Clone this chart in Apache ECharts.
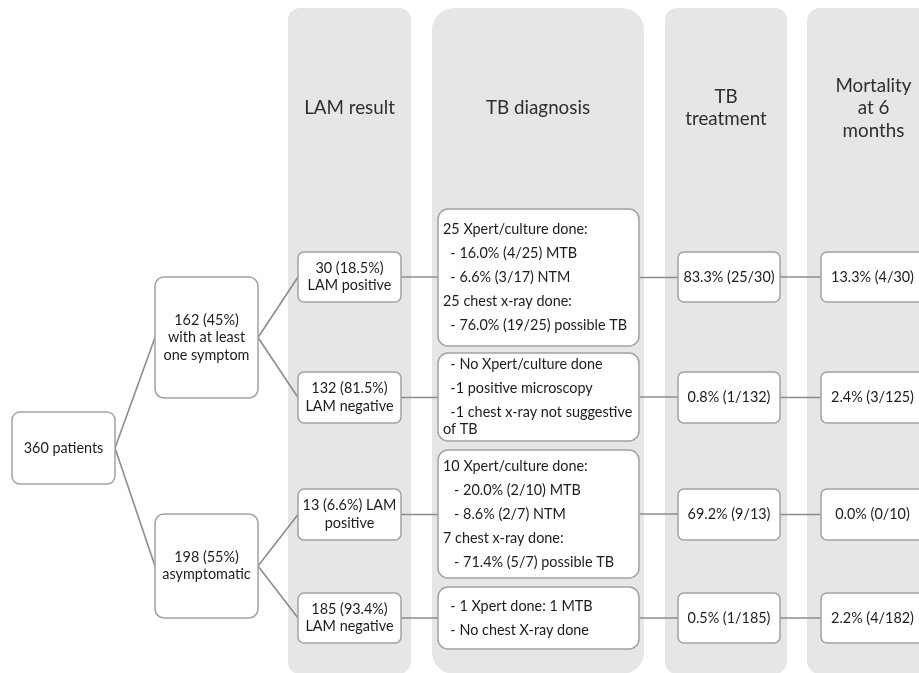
<!DOCTYPE html>
<html><head><meta charset="utf-8">
<script src="https://cdn.jsdelivr.net/npm/echarts/dist/echarts.min.js"></script>
<style>html,body{margin:0;padding:0;background:#fff}#c{width:919px;height:673px}</style>
</head><body><div id="c"></div>
<script>
// ---------- content ----------
const stageHeaders = ['LAM result', 'TB diagnosis', 'TB\ntreatment', 'Mortality\nat 6\nmonths'];
const rootLabels = ['360 patients'];
const symptomLabels = ['162 (45%)\nwith at least\none symptom', '198 (55%)\nasymptomatic'];
const lamLabels = ['30 (18.5%)\nLAM positive', '132 (81.5%)\nLAM negative', '13 (6.6%) LAM\npositive', '185 (93.4%)\nLAM negative'];
const diagnosisParagraphs = [
  ['25 Xpert/culture done:', '  - 16.0% (4/25) MTB', '  - 6.6% (3/17) NTM', '25 chest x-ray done:', '  - 76.0% (19/25) possible TB'],
  ['  - No Xpert/culture done', '  -1 positive microscopy', '  -1 chest x-ray not suggestive\nof TB'],
  ['10 Xpert/culture done:', '   - 20.0% (2/10) MTB', '   - 8.6% (2/7) NTM', '7 chest x-ray done:', '   - 71.4% (5/7) possible TB'],
  ['  - 1 Xpert done: 1 MTB', '  - No chest X-ray done']
];
const treatmentLabels = ['83.3% (25/30)', '0.8% (1/132)', '69.2% (9/13)', '0.5% (1/185)'];
const mortalityLabels = ['13.3% (4/30)', '2.4% (3/125)', '0.0% (0/10)', '2.2% (4/182)'];
const symptomParent = [0, 0];
const lamParent = [0, 0, 1, 1];

// ---------- layout (geometry, in axis units) ----------
const layout = {
  bands: [[288, 411, 12], [432, 644, 22], [665, 787, 12], [807, 940, 13]],
  bandTop: 8, bandBottom: 674, headerY: 108, headerLH: 22.5,
  cols: { root: [12, 115, 8], symptom: [155, 258, 9], lam: [298, 401, 6], diag: [438, 639, 10], treat: [678, 780, 6], mort: [821, 924, 6] },
  rowsRoot: [[412, 484]],
  rowsSymptom: [[277, 398], [514, 618]],
  rowsSmall: [[252, 302], [372, 423], [489, 540], [593, 643]],
  rowsDiag: [[209, 346], [353, 441], [450, 578], [587, 649]]
};

const FONT = 'Lato, "Open Sans", sans-serif';
const TEXT = '#1c1c1c';
const BORDER = '#a2a2a2';
const LINK = '#8c8c8c';
const BOX_FS = 14.4;
const HEAD_FS = 18.8;

// ---------- build nodes ----------
const nodes = [];
function addNode(col, row, label, paras) {
  const c = layout.cols[col];
  nodes.push({ col, x0: c[0], x1: c[1], r: c[2], y0: row[0], y1: row[1], label, paras });
  return nodes.length - 1;
}
const rootIdx = rootLabels.map((l, i) => addNode('root', layout.rowsRoot[i], l));
const symIdx = symptomLabels.map((l, i) => addNode('symptom', layout.rowsSymptom[i], l));
const lamIdx = lamLabels.map((l, i) => addNode('lam', layout.rowsSmall[i], l));
const diagIdx = diagnosisParagraphs.map((p, i) => addNode('diag', layout.rowsDiag[i], null, p));
const treatIdx = treatmentLabels.map((l, i) => addNode('treat', layout.rowsSmall[i], l));
const mortIdx = mortalityLabels.map((l, i) => addNode('mort', layout.rowsSmall[i], l));

const links = [];
symIdx.forEach((s, i) => links.push([rootIdx[symptomParent[i]], s, false]));
lamIdx.forEach((s, i) => links.push([symIdx[lamParent[i]], s, false]));
lamIdx.forEach((s, i) => {
  links.push([s, diagIdx[i], true]);
  links.push([diagIdx[i], treatIdx[i], true]);
  links.push([treatIdx[i], mortIdx[i], true]);
});
function cy(n) { return (n.y0 + n.y1) / 2; }

const chart = echarts.init(document.getElementById('c'), null, { renderer: 'canvas' });
chart.setOption({
  animation: false,
  grid: { left: 0, right: 0, top: 0, bottom: 0 },
  xAxis: { type: 'value', min: 0, max: 919, show: false },
  yAxis: { type: 'value', min: 0, max: 673, inverse: true, show: false },
  series: [
    {
      type: 'custom', z: 1, clip: false,
      data: layout.bands.map((b, i) => [(b[0] + b[1]) / 2, layout.headerY, i]),
      renderItem: function (params, api) {
        const b = layout.bands[params.dataIndex];
        const p0 = api.coord([b[0], layout.bandTop]);
        const p1 = api.coord([b[1], layout.bandBottom]);
        const c = api.coord([api.value(0), api.value(1)]);
        return {
          type: 'group', children: [
            { type: 'rect', shape: { x: p0[0], y: p0[1], width: p1[0] - p0[0], height: p1[1] - p0[1], r: b[2] }, style: { fill: '#e6e6e6' } },
            { type: 'text', style: { text: stageHeaders[params.dataIndex], x: c[0], y: c[1], align: 'center', verticalAlign: 'middle', fontFamily: FONT, fontSize: HEAD_FS, lineHeight: layout.headerLH, fill: '#2e2e2e' } }
          ]
        };
      }
    },
    {
      type: 'custom', z: 2, clip: false,
      data: links.map((l, i) => [i]),
      renderItem: function (params, api) {
        const l = links[params.dataIndex];
        const a = nodes[l[0]], b = nodes[l[1]];
        const ya = cy(a);
        const yb = l[2] ? ya : cy(b);
        const p0 = api.coord([a.x1, ya]);
        const p1 = api.coord([b.x0, yb]);
        return { type: 'line', shape: { x1: p0[0], y1: p0[1], x2: p1[0], y2: p1[1] }, style: { stroke: LINK, lineWidth: 1.6 } };
      }
    },
    {
      type: 'custom', z: 3, clip: false,
      data: nodes.map(n => [(n.x0 + n.x1) / 2, cy(n)]),
      renderItem: function (params, api) {
        const n = nodes[params.dataIndex];
        const p0 = api.coord([n.x0, n.y0]);
        const p1 = api.coord([n.x1, n.y1]);
        const c = api.coord([api.value(0), api.value(1)]);
        const children = [
          { type: 'rect', shape: { x: p0[0], y: p0[1], width: p1[0] - p0[0], height: p1[1] - p0[1], r: n.r }, style: { fill: '#fff', stroke: BORDER, lineWidth: 1.5 } }
        ];
        if (n.paras) {
          const lh = 17, gap = 7;
          const counts = n.paras.map(p => p.split('\n').length);
          const H = counts.reduce((s, k) => s + k * lh, 0) + (n.paras.length - 1) * gap;
          let y = c[1] - H / 2;
          n.paras.forEach((p, i) => {
            children.push({ type: 'text', style: { text: p, x: p0[0] + 5, y: y, align: 'left', verticalAlign: 'top', fontFamily: FONT, fontSize: BOX_FS, lineHeight: lh, fill: TEXT } });
            y += counts[i] * lh + gap;
          });
        } else {
          children.push({ type: 'text', style: { text: n.label, x: c[0], y: c[1], align: 'center', verticalAlign: 'middle', fontFamily: FONT, fontSize: BOX_FS, lineHeight: 17.5, fill: TEXT } });
        }
        return { type: 'group', children };
      }
    }
  ]
});
</script></body></html>
